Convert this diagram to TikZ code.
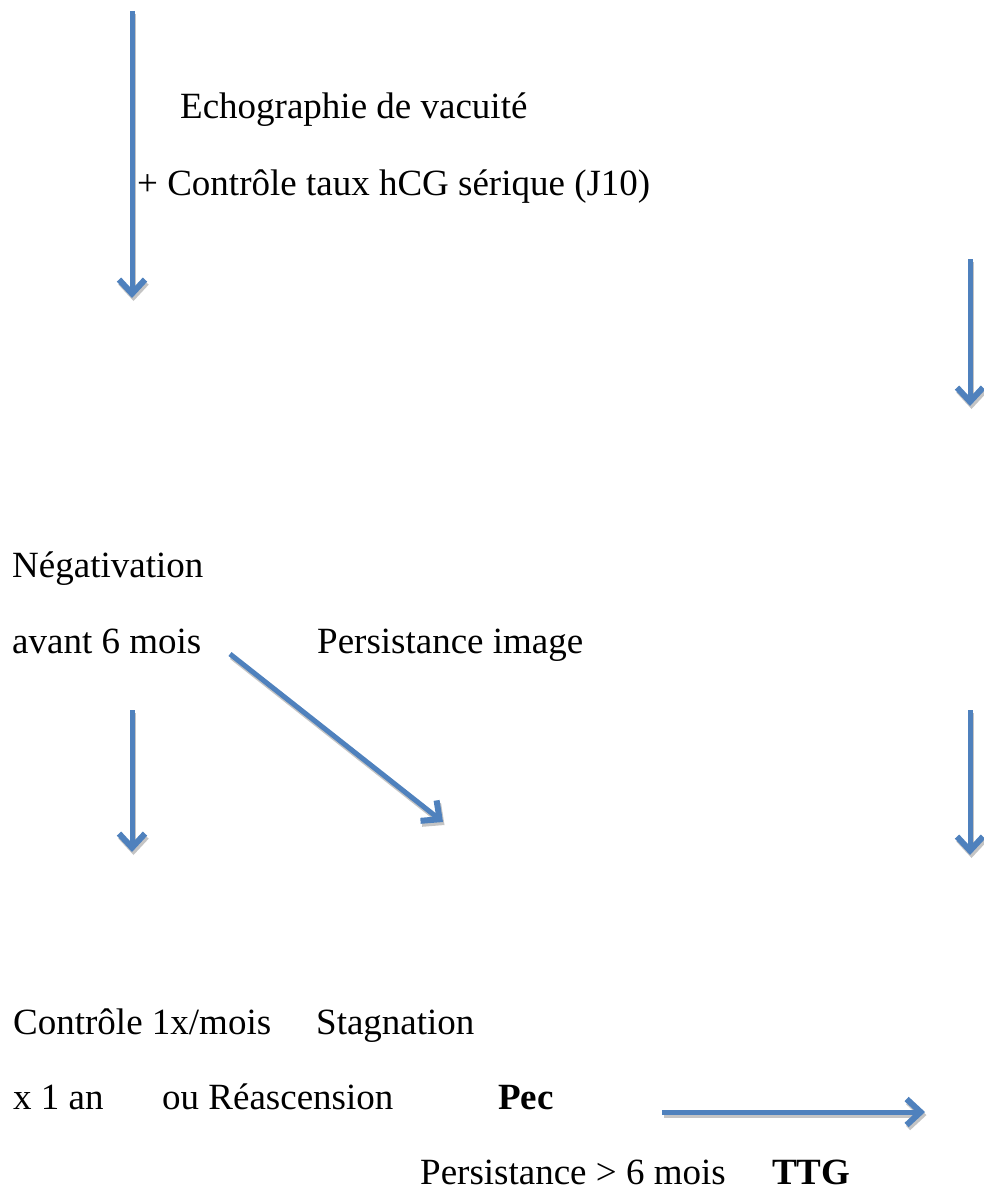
\documentclass[tikz,border=0pt]{standalone}
\usepackage{fontspec}
\setmainfont{Liberation Serif}
\usetikzlibrary{arrows.meta}
\definecolor{arrowblue}{HTML}{4F81BD}
\definecolor{shadowgray}{HTML}{C4C4C4}
\tikzset{
  txt/.style={inner sep=0pt, anchor=base west, font=\fontsize{37}{44}\selectfont},
  btxt/.style={txt, font=\fontsize{37}{44}\selectfont\bfseries},
  flowarrow/.style={draw=arrowblue, line width=5pt, -{Straight Barb[length=14pt,width=26pt,line width=1pt 1]}},
  shadowarrow/.style={draw=shadowgray, line width=5pt, -{Straight Barb[length=14pt,width=26pt,line width=1pt 1]}}
}
\begin{document}
\begin{tikzpicture}[x=1pt,y=-1pt]
\useasboundingbox (0,0) rectangle (983,1193);

% texts
\node[txt] (echo) at (180,119) {Echographie de vacuité};
\node[txt] (ctrl) at (137,195) {+ Contrôle taux hCG sérique (J10)};
\node[txt] (neg) at (12,577) {Négativation};
\node[txt] (avant) at (12,653) {avant 6 mois};
\node[txt] (persimg) at (317,653) {Persistance image};
\node[txt] (ctrlmois) at (13,1034) {Contrôle 1x/mois};
\node[txt] (stag) at (316,1034) {Stagnation};
\node[txt] (an) at (13,1109) {x 1 an};
\node[txt] (reasc) at (162,1109) {ou Réascension};
\node[btxt] (pec) at (498,1109) {Pec};
\node[txt] (pers6) at (420,1184) {Persistance > 6 mois};
\node[btxt] (ttg) at (772,1184) {TTG};

% arrow end points
\coordinate (a1s) at (132,11);  \coordinate (a1e) at (132,298);
\coordinate (a2s) at (970,259); \coordinate (a2e) at (970,406);
\coordinate (a3s) at (132,710); \coordinate (a3e) at (132,852);
\coordinate (a4s) at (970,710); \coordinate (a4e) at (970,855);
\coordinate (a5s) at (230,654); \coordinate (a5e) at (443,822);
\coordinate (a6s) at (662,1112); \coordinate (a6e) at (925,1112);

% shadows
\foreach \s/\e in {a1s/a1e,a2s/a2e,a3s/a3e,a4s/a4e,a5s/a5e,a6s/a6e}
  \draw[shadowarrow] ([xshift=1.5pt,yshift=-3pt]\s) -- ([xshift=1.5pt,yshift=-3pt]\e);
% arrows
\foreach \s/\e in {a1s/a1e,a2s/a2e,a3s/a3e,a4s/a4e,a5s/a5e,a6s/a6e}
  \draw[flowarrow] (\s) -- (\e);
\end{tikzpicture}
\end{document}
